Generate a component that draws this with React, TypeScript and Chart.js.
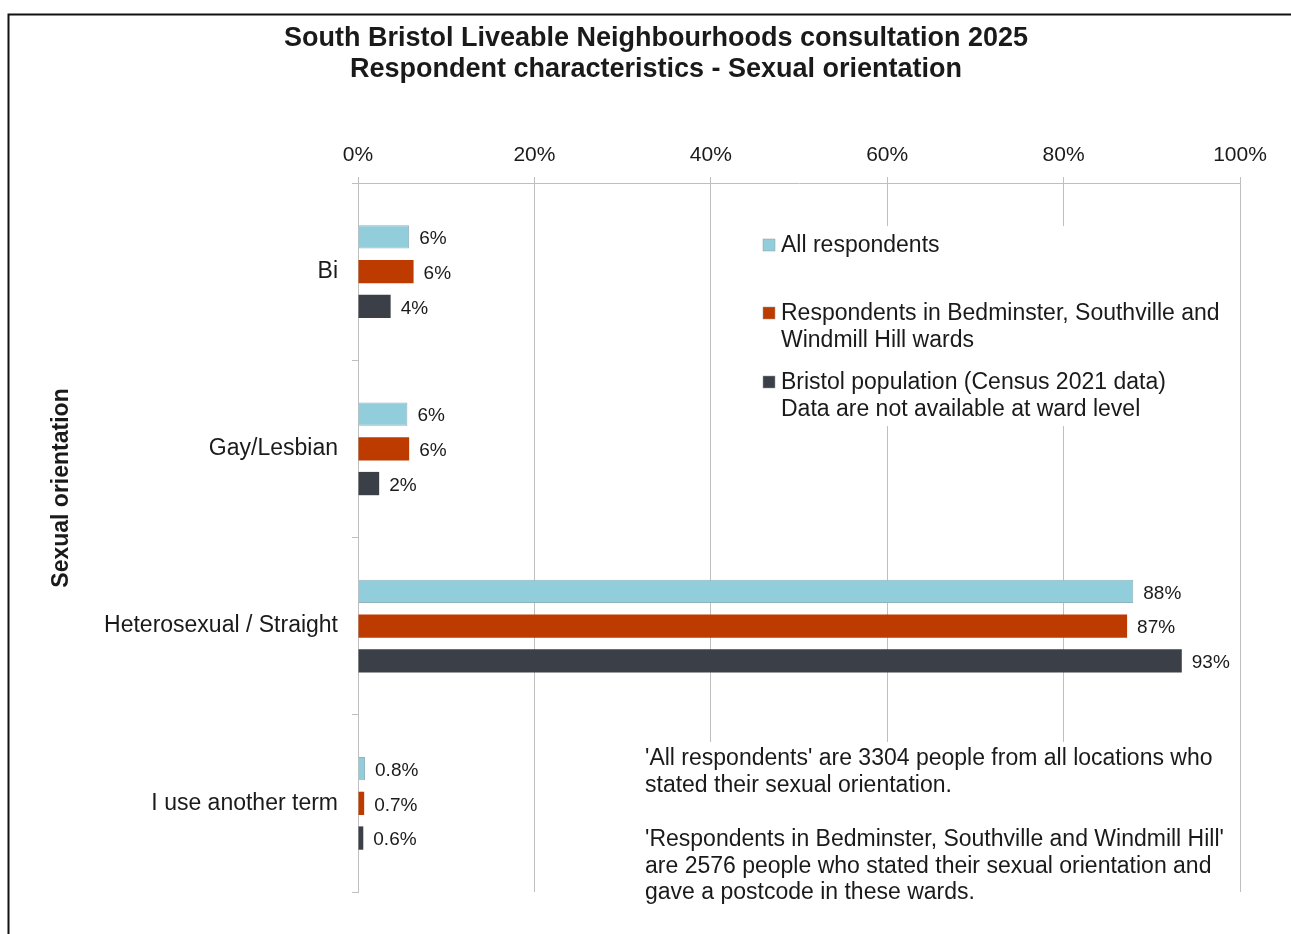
import React, { useEffect, useRef } from "react";
import { Chart, registerables } from "chart.js";

Chart.register(...registerables);

const titleLines = [
  "South Bristol Liveable Neighbourhoods consultation 2025",
  "Respondent characteristics - Sexual orientation",
];
const yAxisTitle = "Sexual orientation";
const categories = ["Bi", "Gay/Lesbian", "Heterosexual / Straight", "I use another term"];
const seriesNames = [
  "All respondents",
  "Respondents in Bedminster, Southville and Windmill Hill wards",
  "Bristol population (Census 2021 data) Data are not available at ward level",
];
const allRespondents = [5.8, 5.6, 87.9, 0.8];
const bswRespondents = [6.3, 5.8, 87.2, 0.7];
const bristolPopulation = [3.7, 2.4, 93.4, 0.6];
const allLabels = ["6%", "6%", "88%", "0.8%"];
const bswLabels = ["6%", "6%", "87%", "0.7%"];
const bristolLabels = ["4%", "2%", "93%", "0.6%"];
const xTickStep = 20;
const legendLines = [
  ["All respondents"],
  ["Respondents in Bedminster, Southville and", "Windmill Hill wards"],
  ["Bristol population (Census 2021 data)", "Data are not available at ward level"],
];
const noteLines = [
  "'All respondents' are 3304 people from all locations who",
  "stated their sexual orientation.",
  "",
  "'Respondents in Bedminster, Southville and Windmill Hill'",
  "are 2576 people who stated their sexual orientation and",
  "gave a postcode in these wards.",
];
const seriesColors = ["#92CDDC", "#BE3B00", "#3B3F47"];
const seriesBorders = ["#8FB2BE", "#BE3B00", "#3B3F47"];

const FONT = "'Liberation Sans', Arial, Helvetica, sans-serif";
const TEXT = "#1a1a1a";
const GRID = "#BFBFBF";

const labelSets = [allLabels, bswLabels, bristolLabels];

const decorPlugin = {
  id: "decor",
  beforeDraw(chart: any) {
    const ctx = chart.ctx;
    ctx.save();
    ctx.fillStyle = "#ffffff";
    ctx.fillRect(0, 0, chart.width, chart.height);
    ctx.strokeStyle = "#111111";
    ctx.lineWidth = 2;
    ctx.strokeRect(8.5, 14.5, chart.width + 50, chart.height + 50);
    ctx.restore();
  },
  afterDraw(chart: any) {
    const ctx = chart.ctx;
    ctx.save();
    // title
    ctx.fillStyle = TEXT;
    ctx.textAlign = "center";
    ctx.textBaseline = "middle";
    ctx.font = `bold 27px ${FONT}`;
    titleLines.forEach((t, i) => ctx.fillText(t, 656, 39 + i * 31));

    // y axis title
    ctx.save();
    ctx.translate(62, 488);
    ctx.rotate(-Math.PI / 2);
    ctx.font = `bold 23px ${FONT}`;
    ctx.fillText(yAxisTitle, 0, 0);
    ctx.restore();

    // legend box
    ctx.fillStyle = "#ffffff";
    ctx.fillRect(755, 226, 478, 200);
    ctx.textAlign = "left";
    ctx.font = `23px ${FONT}`;
    const itemY = [245, 313, 382];
    legendLines.forEach((lines, i) => {
      const y0 = itemY[i];
      ctx.fillStyle = seriesColors[i];
      ctx.fillRect(763, y0 - 6, 12, 12);
      ctx.strokeStyle = "#9a9a9a";
      ctx.lineWidth = 0.5;
      ctx.strokeRect(763, y0 - 6, 12, 12);
      ctx.fillStyle = TEXT;
      lines.forEach((l, j) => ctx.fillText(l, 781, y0 + 1 + j * 27));
    });

    // notes box
    ctx.fillStyle = "#ffffff";
    ctx.fillRect(638, 742, 596, 165);
    ctx.fillStyle = TEXT;
    noteLines.forEach((l, i) => {
      if (l) ctx.fillText(l, 645, 759 + i * 26.8);
    });

    // data labels
    ctx.font = `19px ${FONT}`;
    chart.data.datasets.forEach((ds: any, di: number) => {
      const meta = chart.getDatasetMeta(di);
      meta.data.forEach((bar: any, idx: number) => {
        ctx.fillText(labelSets[di][idx], bar.x + 10, bar.y + 2);
      });
    });
    ctx.restore();
  },
};

export default function App() {
  const ref = useRef<HTMLCanvasElement | null>(null);
  useEffect(() => {
    if (!ref.current) return;
    const chart = new Chart(ref.current, {
      type: "bar",
      data: {
        labels: categories,
        datasets: [
          { label: seriesNames[0], data: allRespondents, backgroundColor: seriesColors[0], borderColor: seriesBorders[0], borderWidth: 1 },
          { label: seriesNames[1], data: bswRespondents, backgroundColor: seriesColors[1], borderColor: seriesBorders[1], borderWidth: 0 },
          { label: seriesNames[2], data: bristolPopulation, backgroundColor: seriesColors[2], borderColor: seriesBorders[2], borderWidth: 0 },
        ],
      },
      options: {
        indexAxis: "y",
        responsive: false,
        animation: false,
        layout: { padding: { left: 0, top: 0, right: 51, bottom: 42 } },
        datasets: { bar: { categoryPercentage: 0.587, barPercentage: 0.672 } },
        plugins: {
          legend: { display: false },
          title: { display: false },
          tooltip: { enabled: false },
        },
        scales: {
          x: {
            type: "linear",
            position: "top",
            min: 0,
            max: 100,
            afterFit: (s: any) => { s.height = 183; },
            ticks: {
              stepSize: xTickStep,
              callback: (v: any) => `${v}%`,
              font: { family: FONT, size: 21 },
              color: TEXT,
              padding: 9,
              maxRotation: 0,
            },
            grid: { color: GRID, lineWidth: 1, tickLength: 6, drawTicks: true },
            border: { display: true, color: GRID, width: 1 },
          },
          y: {
            type: "category",
            position: "left",
            afterFit: (s: any) => { s.width = 358; },
            ticks: { font: { family: FONT, size: 23 }, color: TEXT, padding: 14 },
            grid: { drawOnChartArea: false, drawTicks: true, tickLength: 6, color: GRID, offset: true },
            border: { display: true, color: GRID, width: 1 },
            title: { display: false },
          },
        },
      },
      plugins: [decorPlugin],
    } as any);
    return () => chart.destroy();
  }, []);
  return (
    <div style={{ position: "fixed", left: 0, top: 0, width: 1291, height: 934, background: "#fff" }}>
      <canvas ref={ref} width={1291} height={934} style={{ display: "block" }} />
    </div>
  );
}
